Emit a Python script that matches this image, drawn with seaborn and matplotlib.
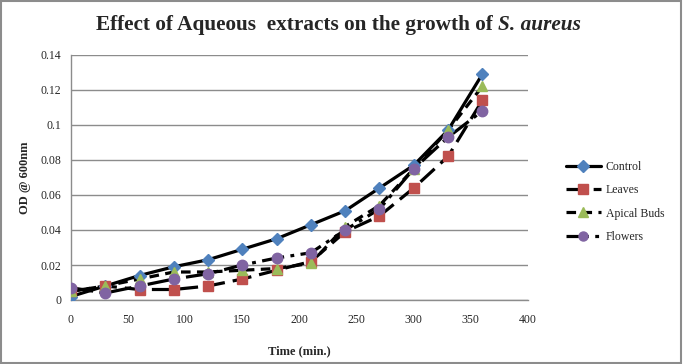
import numpy as np
import matplotlib
matplotlib.use("Agg")
import matplotlib.pyplot as plt
import pandas as pd
import seaborn as sns
from matplotlib.patches import Rectangle

# time points (min.)
time = [0, 30, 60, 90, 120, 150, 180, 210, 240, 270, 300, 330, 360]

# OD @ 600nm for each extract
control = [0.002, 0.008, 0.014, 0.019, 0.023, 0.029, 0.035, 0.043, 0.051, 0.064, 0.077, 0.097, 0.129]
leaves = [0.005, 0.008, 0.006, 0.006, 0.008, 0.012, 0.017, 0.022, 0.039, 0.048, 0.064, 0.082, 0.114]
apical_buds = [0.005, 0.008, 0.012, 0.016, 0.016, 0.017, 0.018, 0.021, 0.042, 0.054, 0.075, 0.097, 0.122]
flowers = [0.007, 0.004, 0.008, 0.012, 0.015, 0.020, 0.024, 0.027, 0.040, 0.052, 0.075, 0.093, 0.108]

series_names = ["Control", "Leaves", "Apical Buds", "Flowers"]
marker_colors = ["#4F81BD", "#C0504D", "#9BBB59", "#8064A2"]
markers = ["D", "s", "^", "o"]
dashes = ["", (6, 2.5), (3, 2), (7, 2, 1.2, 2)]

df = pd.DataFrame({"Time": time, "Control": control, "Leaves": leaves,
                   "Apical Buds": apical_buds, "Flowers": flowers})
long_df = df.melt(id_vars="Time", var_name="Series", value_name="OD")

sns.set_style("white")
plt.rcParams["font.family"] = ["Liberation Serif", "DejaVu Serif"]

fig = plt.figure(figsize=(6.83, 3.64), dpi=100)
ax = fig.add_axes([71 / 683, 1 - 300 / 364, (528 - 71) / 683, (300 - 55) / 364])

# black lines with colored markers on top
sns.lineplot(data=long_df, x="Time", y="OD", hue="Series", style="Series",
             hue_order=series_names, style_order=series_names,
             palette=["black"] * 4, dashes=dashes, markers=False,
             linewidth=2.3, ax=ax, legend=False)
for name, col, mk in zip(series_names, marker_colors, markers):
    sub = long_df[long_df["Series"] == name]
    sz = 6.5 if mk == "D" else 7.5
    ax.plot(sub["Time"], sub["OD"], linestyle="none", marker=mk, markersize=sz,
            markerfacecolor=col, markeredgecolor=col, zorder=5)

ax.set_xlim(0, 400)
ax.set_ylim(0, 0.14)
ax.set_xticks(np.arange(0, 401, 50))
ax.set_yticks(np.arange(0, 0.141, 0.02))
ax.set_yticklabels(["0", "0.02", "0.04", "0.06", "0.08", "0.1", "0.12", "0.14"])
ax.tick_params(axis="y", labelsize=8.5, length=0, pad=7)
ax.tick_params(axis="x", labelsize=8.5, length=0, pad=10)
ax.yaxis.grid(True, color="#8c8c8c", linewidth=1)
ax.set_axisbelow(True)
for s in ["top", "right"]:
    ax.spines[s].set_visible(False)
for s in ["left", "bottom"]:
    ax.spines[s].set_color("#8c8c8c")
    ax.spines[s].set_linewidth(1)

ax.set_xlabel("Time (min.)", fontsize=9, fontweight="bold", labelpad=14)
ax.set_ylabel("OD @ 600nm", fontsize=9, fontweight="bold", labelpad=7)

t1 = fig.text(96 / 683, 1 - 25 / 364, "Effect of Aqueous  extracts on the growth of ",
              ha="left", va="center", fontsize=15.3, fontweight="bold")
fig.canvas.draw()
bb = t1.get_window_extent()
fig.text(bb.x1 / (6.83 * 100), 1 - 25 / 364, "S. aureus", ha="left", va="center",
         fontsize=15.3, fontweight="bold", style="italic")

# legend built from the same styles
handles = []
for name, col, mk, d in zip(series_names, marker_colors, markers, dashes):
    h = plt.Line2D([], [], color="black", linewidth=2.3, marker=mk, markersize=6.5,
                   markerfacecolor=col, markeredgecolor=col,
                   dashes=d if d else (None, None))
    handles.append(h)
fig.legend(handles=handles, labels=series_names, loc="center left",
           bbox_to_anchor=(555 / 683, 1 - 202 / 364), frameon=False,
           fontsize=8.5, handlelength=3, labelspacing=0.95, handletextpad=0.4)

fig.patches.append(Rectangle((0.002, 0.003), 0.995, 0.994, transform=fig.transFigure,
                             fill=False, edgecolor="#8c8c8c", linewidth=1.5))

fig.savefig("out.png", dpi=100)
